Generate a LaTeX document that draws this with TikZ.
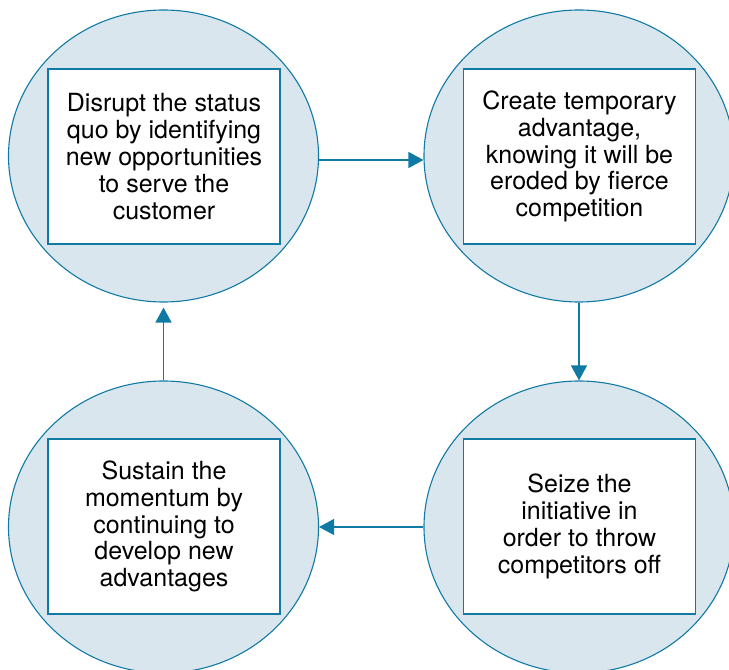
\documentclass[tikz,border=0pt]{standalone}
\usepackage{fontspec}
\setmainfont{TeX Gyre Heros}
\usetikzlibrary{shapes.geometric}
\usetikzlibrary{arrows.meta}

\definecolor{cycleblue}{RGB}{16,122,165}
\definecolor{cyclefill}{RGB}{218,230,238}

\begin{document}
\begin{tikzpicture}[x=1pt,y=1pt,
    stage/.style={ellipse, draw=cycleblue, fill=cyclefill, line width=1.1pt,
        minimum width=310pt, minimum height=292pt, inner sep=0pt},
    stagetext/.style={rectangle, draw=cycleblue, fill=white, line width=1.3pt,
        minimum width=232pt, minimum height=175pt, align=center,
        font=\fontsize{25}{26.8}\selectfont},
    flow/.style={draw=cycleblue, line width=1.3pt,
        -{Triangle[length=15pt,width=16pt]}}]

            \useasboundingbox (0,0) rectangle (729,670);
            \clip (0,0) rectangle (729,670);

            % disrupt

            \node[stage] (disrupt) at (163.5,514) {};
            \node[stagetext] (disruptText) at (164,513.5)
                {Disrupt the status\\ quo by identifying\\ new opportunities\\ to serve the\\ customer};

            % create

            \node[stage] (create) at (579,514) {};
            \node[stagetext] (createText) at (579.5,513.5)
                {Create temporary\\ advantage,\\ knowing it will be\\ eroded by fierce\\ competition};

            % seize

            \node[stage] (seize) at (579,143) {};
            \node[stagetext] (seizeText) at (579.5,143.5)
                {Seize the\\ initiative in\\ order to throw\\ competitors off};

            % sustain

            \node[stage] (sustain) at (163.5,143) {};
            \node[stagetext] (sustainText) at (164,143.5)
                {Sustain the\\ momentum by\\ continuing to\\ develop new\\ advantages};

            % cycle

            \draw[flow] ([yshift=-4pt]disrupt.east) -- ([yshift=-4pt]create.west);
            \draw[flow] (create.south) -- (seize.north);
            \draw[flow] (seize.west) -- (sustain.east);
            \draw[flow, shorten >=5pt] (sustain.north) -- (disrupt.south);
        \end{tikzpicture}
\end{document}
